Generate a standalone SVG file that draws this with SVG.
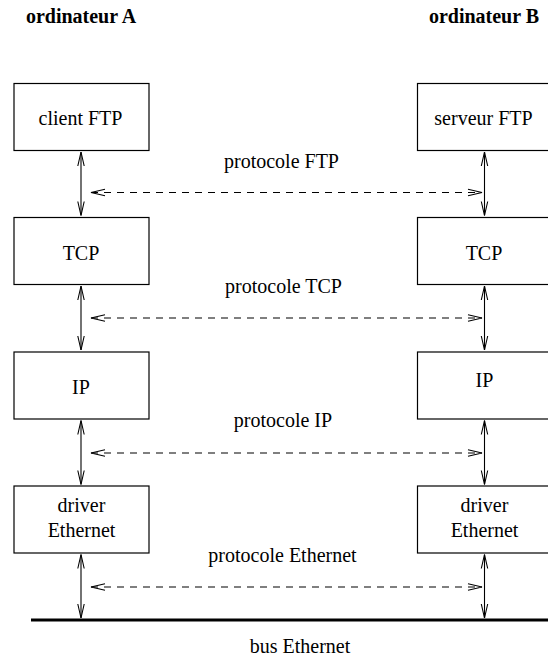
<svg xmlns="http://www.w3.org/2000/svg" width="548" height="658" viewBox="0 0 548 658">
<style>
text{font-family:"Liberation Serif","Times New Roman",serif;font-size:20px;fill:#000;text-anchor:middle}
.h{font-weight:bold}
.box{fill:#fff;stroke:#000;stroke-width:1.2}
.v{stroke:#000;stroke-width:1.1;fill:none}
.d{stroke:#000;stroke-width:1.1;fill:none;stroke-dasharray:7 6}
</style>
<defs>
<marker id="ah" markerUnits="userSpaceOnUse" markerWidth="20" markerHeight="12" viewBox="-16 -6 20 12" refX="0" refY="0" orient="auto-start-reverse" overflow="visible">
<path d="M-14,-3.2 L0,0 L-14,3.2" fill="none" stroke="#000" stroke-width="1.1"/>
</marker>
</defs>
<rect width="548" height="658" fill="#fff"/>
<text class="h" x="81" y="23">ordinateur A</text>
<text class="h" x="484" y="23">ordinateur B</text>
<g id="clientFTP"><rect class="box" x="14" y="83.5" width="135" height="67"/><text x="80.5" y="125">client FTP</text></g>
<g id="serveurFTP"><rect class="box" x="417.5" y="83.5" width="140" height="67"/><text x="483.5" y="125">serveur FTP</text></g>
<g id="tcpA"><rect class="box" x="14" y="217.5" width="135" height="67"/><text x="81" y="260">TCP</text></g>
<g id="tcpB"><rect class="box" x="417.5" y="217.5" width="140" height="67"/><text x="484" y="260">TCP</text></g>
<g id="ipA"><rect class="box" x="14" y="352" width="135" height="67"/><text x="81" y="394">IP</text></g>
<g id="ipB"><rect class="box" x="417.5" y="352" width="140" height="67"/><text x="484.5" y="387">IP</text></g>
<g id="ethA"><rect class="box" x="14" y="486" width="135" height="67"/><text x="81.5" y="512">driver</text><text x="81.5" y="537">Ethernet</text></g>
<g id="ethB"><rect class="box" x="417.5" y="486" width="140" height="67"/><text x="484.5" y="512">driver</text><text x="484.5" y="537">Ethernet</text></g>
<g id="bus"><line x1="31" y1="620" x2="552" y2="620" stroke="#000" stroke-width="3"/><text x="300" y="653">bus Ethernet</text></g>
<g id="labels">
<text x="281.5" y="168">protocole FTP</text>
<text x="283.5" y="293">protocole TCP</text>
<text x="283" y="427">protocole IP</text>
<text x="282.5" y="562">protocole Ethernet</text>
</g>
<g id="connectors">
<line class="v" x1="81" y1="152" x2="81" y2="215.5" marker-start="url(#ah)" marker-end="url(#ah)"/>
<line class="v" x1="484.5" y1="152" x2="484.5" y2="215.5" marker-start="url(#ah)" marker-end="url(#ah)"/>
<line class="v" x1="81" y1="286" x2="81" y2="350" marker-start="url(#ah)" marker-end="url(#ah)"/>
<line class="v" x1="484.5" y1="286" x2="484.5" y2="350" marker-start="url(#ah)" marker-end="url(#ah)"/>
<line class="v" x1="81" y1="420.5" x2="81" y2="484.5" marker-start="url(#ah)" marker-end="url(#ah)"/>
<line class="v" x1="484.5" y1="420.5" x2="484.5" y2="484.5" marker-start="url(#ah)" marker-end="url(#ah)"/>
<line class="v" x1="81" y1="554.5" x2="81" y2="618" marker-start="url(#ah)" marker-end="url(#ah)"/>
<line class="v" x1="484.5" y1="554.5" x2="484.5" y2="618" marker-start="url(#ah)" marker-end="url(#ah)"/>
<line class="d" x1="91" y1="192.5" x2="482" y2="192.5" marker-start="url(#ah)" marker-end="url(#ah)"/>
<line class="d" x1="91" y1="318" x2="482" y2="318" marker-start="url(#ah)" marker-end="url(#ah)"/>
<line class="d" x1="91" y1="453" x2="482" y2="453" marker-start="url(#ah)" marker-end="url(#ah)"/>
<line class="d" x1="91" y1="587" x2="482" y2="587" marker-start="url(#ah)" marker-end="url(#ah)"/>
</g>
</svg>
